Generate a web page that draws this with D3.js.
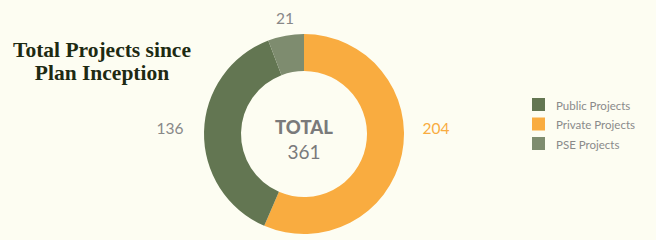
<!DOCTYPE html>
<html><head><meta charset="utf-8">
<script src="https://cdn.jsdelivr.net/npm/d3@7"></script>
<style>body{margin:0;background:#fdfdf2;}svg{display:block;}</style>
</head><body>
<script>
const categories = ["Public Projects", "Private Projects", "PSE Projects"];
const values = [136, 204, 21];
const colors = ["#637652", "#f9ac40", "#7e8c6f"];
const drawOrder = ["Private Projects", "Public Projects", "PSE Projects"];
const title = ["Total Projects since", "Plan Inception"];

const W = 656, H = 240;
const svg = d3.select("body").append("svg").attr("width", W).attr("height", H);
svg.append("rect").attr("width", W).attr("height", H).attr("fill", "#fdfdf2");

const data = categories.map((c, i) => ({cat: c, value: values[i], color: colors[i]}));
const ordered = drawOrder.map(c => data.find(d => d.cat === c));

const cx = 304, cy = 134, R = 100, r = 63;
const pie = d3.pie().sort(null).value(d => d.value);
const arcs = pie(ordered);
const arc = d3.arc().innerRadius(r).outerRadius(R);
const g = svg.append("g").attr("transform", `translate(${cx},${cy})`);
g.selectAll("path").data(arcs).join("path").attr("d", arc).attr("fill", d => d.data.color);

const font = "Lato, 'Open Sans', sans-serif";
const labelPos = {"PSE Projects": [285, 18], "Public Projects": [170, 128], "Private Projects": [436, 128]};
const labelColor = {"PSE Projects": "#888888", "Public Projects": "#888888", "Private Projects": "#f9ac40"};
svg.selectAll("text.val").data(data).join("text").attr("class", "val")
  .attr("x", d => labelPos[d.cat][0]).attr("y", d => labelPos[d.cat][1])
  .attr("text-anchor", "middle").attr("dominant-baseline", "central")
  .attr("font-family", font).attr("font-size", 15.5).attr("fill", d => labelColor[d.cat])
  .text(d => d.value);

svg.append("text").attr("x", cx).attr("y", 127).attr("text-anchor", "middle").attr("dominant-baseline", "central")
  .attr("font-family", font).attr("font-weight", "900").attr("font-size", 18.5).attr("fill", "#7a7a7b").text("TOTAL");
svg.append("text").attr("x", cx).attr("y", 151).attr("text-anchor", "middle").attr("dominant-baseline", "central")
  .attr("font-family", font).attr("font-size", 19).attr("fill", "#7a7a7b").text(d3.sum(values));

svg.selectAll("text.title").data(title).join("text").attr("class", "title")
  .attr("x", 102).attr("y", (d, i) => 57 + i * 23).attr("text-anchor", "middle")
  .attr("font-family", "'Liberation Serif', serif").attr("font-weight", "bold").attr("font-size", 21.5)
  .attr("fill", "#1e2a12").text(d => d);

const lg = svg.append("g");
const rows = lg.selectAll("g").data(data).join("g").attr("transform", (d, i) => `translate(532,${98 + i * 19.5})`);
rows.append("rect").attr("width", 13).attr("height", 13).attr("fill", d => d.color);
rows.append("text").attr("x", 24).attr("y", 7).attr("dominant-baseline", "central")
  .attr("font-family", font).attr("font-size", 11.5).attr("fill", "#8a8a8a").text(d => d.cat);
</script>
</body></html>
